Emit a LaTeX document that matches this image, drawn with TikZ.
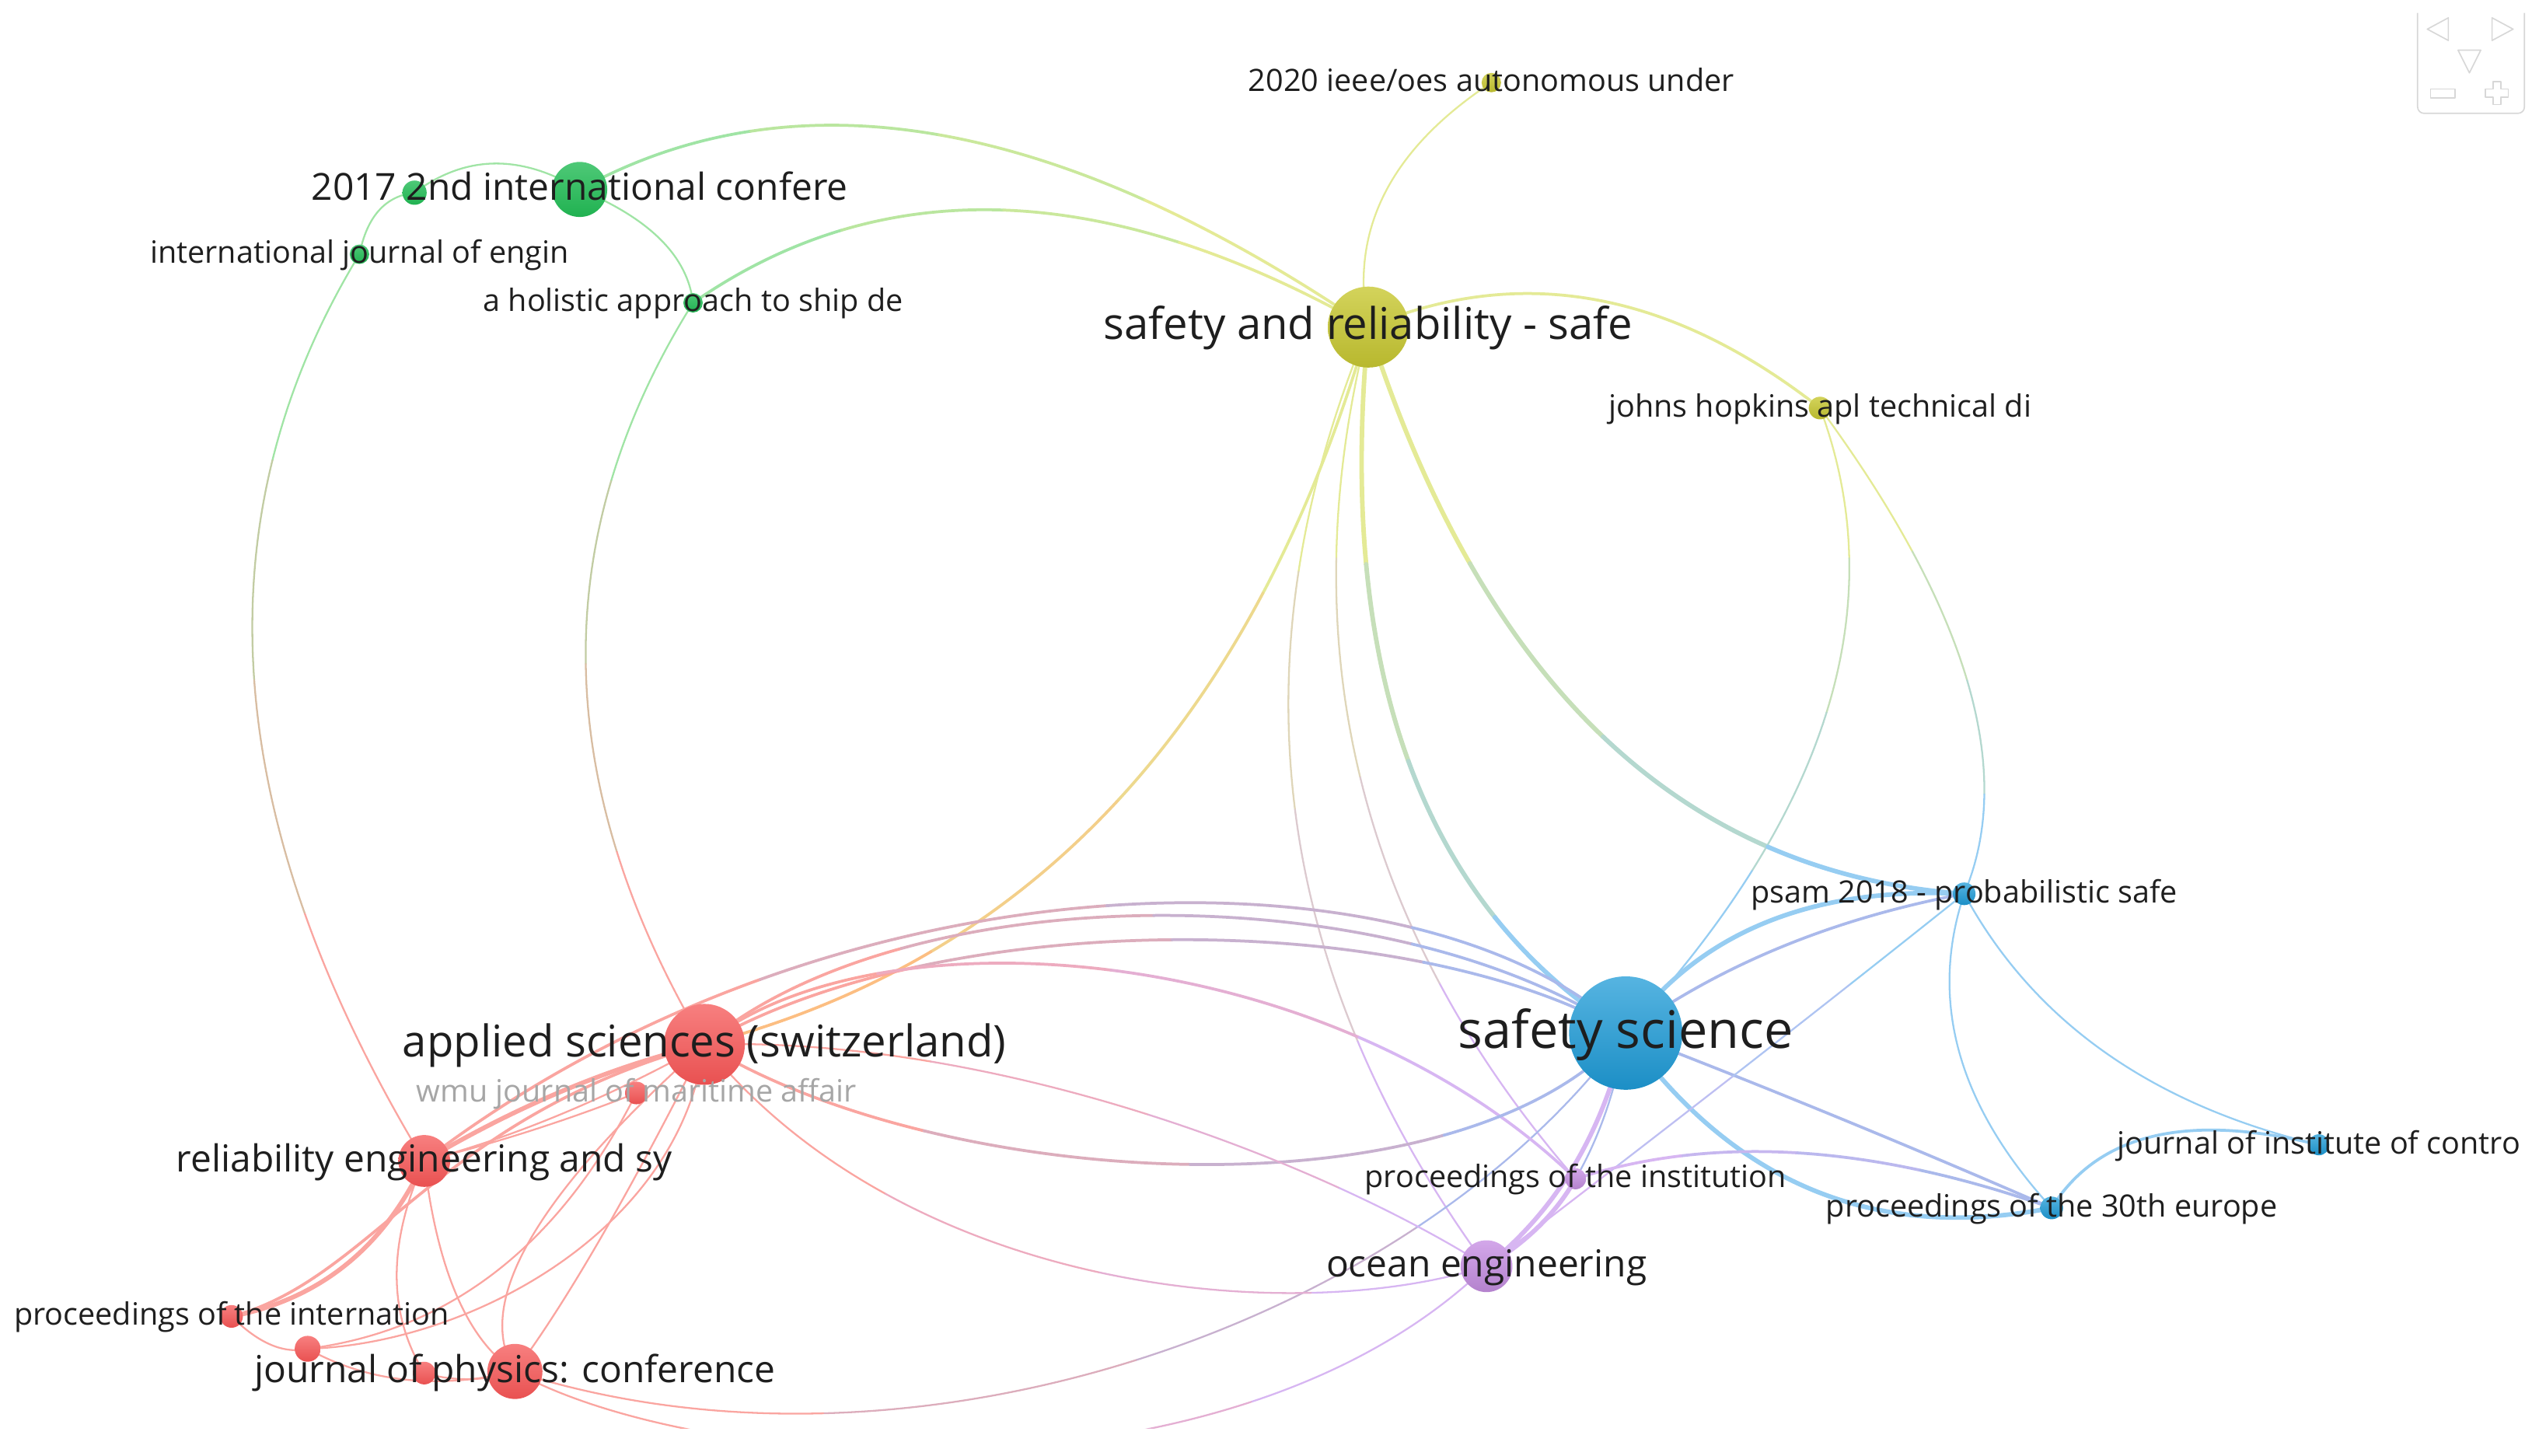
\documentclass[tikz,border=0pt]{standalone}
\usepackage{fontspec}
\setmainfont{Open Sans}
\usetikzlibrary{calc}
\pgfdeclarelayer{bg}
\pgfsetlayers{bg,main}
\definecolor{gN}{RGB}{34,187,85}
\definecolor{yN}{RGB}{200,200,50}
\definecolor{rN}{RGB}{245,85,85}
\definecolor{bN}{RGB}{30,155,215}
\definecolor{pN}{RGB}{200,145,228}
\definecolor{gE}{RGB}{160,228,165}
\definecolor{yE}{RGB}{228,234,150}
\definecolor{rE}{RGB}{250,165,160}
\definecolor{bE}{RGB}{150,205,242}
\definecolor{pE}{RGB}{215,182,242}
\definecolor{oE}{RGB}{252,190,130}
\definecolor{bpE}{RGB}{170,185,235}
\definecolor{labc}{RGB}{30,30,30}
\definecolor{panelc}{RGB}{215,215,215}
\newcommand\fsA{\fontsize{19}{19}\selectfont}
\newcommand\fsB{\fontsize{23}{23}\selectfont}
\newcommand\fsC{\fontsize{27}{27}\selectfont}
\newcommand\fsD{\fontsize{32}{32}\selectfont}
% de Casteljau split of a cubic (#2..#5) into halves, prefix #1
\newcommand\splitc[5]{%
 \coordinate (#1m01) at ($(#2)!0.5!(#3)$);
 \coordinate (#1m12) at ($(#3)!0.5!(#4)$);
 \coordinate (#1m23) at ($(#4)!0.5!(#5)$);
 \coordinate (#1m012) at ($(#1m01)!0.5!(#1m12)$);
 \coordinate (#1m123) at ($(#1m12)!0.5!(#1m23)$);
 \coordinate (#1m) at ($(#1m012)!0.5!(#1m123)$);}
% cubic edge with a four-step colour gradient: width, colour1, colour2, a, c1, c2, b
\newcommand\cg[7]{%
 \coordinate (P0) at (#4.center);
 \coordinate (P1) at (#5);
 \coordinate (P2) at (#6);
 \coordinate (P3) at (#7.center);
 \splitc{H}{P0}{P1}{P2}{P3}
 \splitc{A}{P0}{Hm01}{Hm012}{Hm}
 \splitc{B}{Hm}{Hm123}{Hm23}{P3}
 \draw[#1,#2] (P0) .. controls (Am01) and (Am012) .. (Am);
 \draw[#1,#2!62!#3] (Am) .. controls (Am123) and (Am23) .. (Hm);
 \draw[#1,#2!38!#3] (Hm) .. controls (Bm01) and (Bm012) .. (Bm);
 \draw[#1,#3] (Bm) .. controls (Bm123) and (Bm23) .. (P3);}
\newcommand\qg[6]{\cg{#1}{#2}{#3}{#4}{$(#4.center)!0.6667!(#5)$}{$(#6.center)!0.6667!(#5)$}{#6}}
\newcommand\qe[4]{\draw[#1] (#2.center) .. controls ($(#2.center)!0.6667!(#3)$) and ($(#4.center)!0.6667!(#3)$) .. (#4.center);}
\begin{document}
\begin{tikzpicture}[x=1pt,y=-1pt,
  e/.style={line width=1.1pt, line cap=round},
  em/.style={line width=1.8pt, line cap=round},
  et/.style={line width=2.8pt, line cap=round},
  nd/.style={circle, inner sep=0pt, draw=none, minimum size=#1},
  gn/.style={top color=gN!80!white, bottom color=gN!95!black},
  yn/.style={top color=yN!80!white, bottom color=yN!92!black},
  rn/.style={top color=rN!75!white, bottom color=rN!95!black},
  bn/.style={top color=bN!75!white, bottom color=bN!92!black},
  pn/.style={top color=pN!80!white, bottom color=pN!90!black},
  lab/.style={anchor=base, inner sep=0pt, text=labc},
  panel/.style={draw=panelc, line width=0.8pt, line join=round}]
\useasboundingbox (0,0) rectangle (1568,899);
% ---------- nodes ----------
\node[nd=12, yn] (ieee) at (921,51) {};
\node[nd=34, gn] (g17) at (358,117) {};
\node[nd=15, gn] (gs) at (256,119) {};
\node[nd=12, gn] (ije) at (222,157) {};
\node[nd=12, gn] (hol) at (428,187) {};
\node[nd=50, yn] (sr) at (845,202) {};
\node[nd=14, yn] (jh) at (1124,252) {};
\node[nd=14, bn] (psam) at (1213,552) {};
\node[nd=70, bn] (ss) at (1004,638) {};
\node[nd=50, rn] (app) at (435,645) {};
\node[nd=14, rn] (wmu) at (393,675) {};
\node[nd=32, rn] (rel) at (262,717) {};
\node[nd=13, bn] (jic) at (1432,707) {};
\node[nd=13, pn] (pinst) at (973,728) {};
\node[nd=14, bn] (p30) at (1267,746) {};
\node[nd=32, pn] (ocean) at (918,782) {};
\node[nd=14, rn] (pint) at (143,813) {};
\node[nd=16, rn] (r17) at (190,833) {};
\node[nd=34, rn] (jp) at (318,847) {};
\node[nd=14, rn] (r18) at (262,848) {};
% ---------- edges ----------
\begin{pgfonlayer}{bg}
\begin{scope}
\clip (0,0) rectangle (1568,882);
% green
\qe{e,gE}{g17}{303,84}{gs}
\qe{e,gE}{gs}{229,122}{ije}
\qe{e,gE}{g17}{423,144}{hol}
\qg{em}{gE}{yE}{g17}{558,7}{sr}
\qg{em}{gE}{yE}{hol}{603,65}{sr}
\qg{e}{gE}{rE}{ije}{72,403}{rel}
\qg{e}{gE}{rE}{hol}{292,404}{app}
% yellow
\qe{e,yE}{ieee}{827,113}{sr}
\qe{em,yE}{sr}{985,143}{jh}
\qg{e}{yE}{bE}{jh}{1192,435}{ss}
\qg{e}{yE}{bE}{jh}{1261,438}{psam}
\qg{et}{yE}{bE}{sr}{951,533}{psam}
\qg{et}{yE}{bE}{sr}{815,520}{ss}
\qg{em}{yE}{oE}{sr}{740,566}{app}
\qg{e}{yE}{pE}{sr}{718,508}{ocean}
\qg{e}{yE}{pE}{sr}{771,495}{pinst}
% blue / purple
\qe{et,bE}{ss}{1071,545}{psam}
\qe{em,bpE}{ss}{1091,575}{psam}
\qe{et,bE}{ss}{1104,778}{p30}
\qe{em,bpE}{ss}{1134,688}{p30}
\qe{e,bE}{psam}{1180,651}{p30}
\qe{e,bE}{psam}{1277,670}{jic}
\qe{em,bE}{p30}{1310,677}{jic}
\qg{e}{bE}{pE}{psam}{1074,663}{ocean}
\qg{em}{pE}{bpE}{pinst}{1100,687}{p30}
\qe{et,pE}{ss}{983,730}{ocean}
\qe{e,bpE}{ss}{995,690}{pinst}
\qe{et,pE}{pinst}{955,760}{ocean}
\cg{e}{bpE}{rE}{ss}{870,820}{560,925}{jp}
% red to other clusters
\cg{em}{rE}{bpE}{rel}{520,520}{880,520}{ss}
\cg{em}{rE}{bpE}{app}{560,540}{860,540}{ss}
\cg{em}{rE}{bpE}{app}{580,560}{870,560}{ss}
\cg{em}{rE}{pE}{app}{540,560}{820,580}{pinst}
\cg{em}{rE}{bpE}{app}{580,735}{900,755}{ss}
\cg{e}{rE}{pE}{app}{560,800}{800,820}{ocean}
\cg{e}{rE}{pE}{app}{620,640}{820,720}{ocean}
\cg{e}{rE}{pE}{jp}{430,910}{760,935}{ocean}
% red internal
\qe{et,rE}{rel}{350,665}{app}
\qe{e,rE}{rel}{345,695}{app}
\qe{e,rE}{rel}{330,700}{wmu}
\qe{et,rE}{pint}{225,797}{rel}
\draw[em,rE] (pint.center) .. controls (230,790) and (270,690) .. (app.center);
\qe{e,rE}{pint}{168,838}{r17}
\draw[e,rE] (r17.center) .. controls (290,830) and (420,760) .. (app.center);
\qe{e,rE}{rel}{274,818}{jp}
\qe{e,rE}{rel}{228,793}{r18}
\qe{e,rE}{app}{279,784}{jp}
\qe{e,rE}{app}{365,784}{jp}
\qe{e,rE}{wmu}{322,816}{r17}
\qe{e,rE}{r17}{246,864}{jp}
\qe{e,rE}{r18}{290,856}{jp}
\end{scope}
\end{pgfonlayer}
% ---------- labels ----------
\node[lab, font=\fsA] (ieee-l) at ($(ieee)+(0,5.5)$) {2020 ieee/oes autonomous under};
\node[lab, font=\fsB] (g17-l) at ($(g17)+(0,6.7)$) {2017 2nd international confere};
\node[lab, font=\fsA] (ije-l) at ($(ije)+(0,5.5)$) {international journal of engin};
\node[lab, font=\fsA] (hol-l) at ($(hol)+(0,5.5)$) {a holistic approach to ship de};
\node[lab, font=\fsC] (sr-l) at ($(sr)+(0,7.8)$) {safety and reliability - safe};
\node[lab, font=\fsA] (jh-l) at ($(jh)+(0,5.5)$) {johns hopkins apl technical di};
\node[lab, font=\fsA] (psam-l) at ($(psam)+(0,5.5)$) {psam 2018 - probabilistic safe};
\node[lab, font=\fsD] (ss-l) at ($(ss)+(0,9.3)$) {safety science};
\node[lab, font=\fsC] (app-l) at ($(app)+(0,7.8)$) {applied sciences (switzerland)};
\node[lab, font=\fsA, text=black!35] (wmu-l) at ($(wmu)+(0,5.5)$) {wmu journal of maritime affair};
\node[lab, font=\fsB] (rel-l) at ($(rel)+(0,6.7)$) {reliability engineering and sy};
\node[lab, font=\fsA] (jic-l) at ($(jic)+(0,5.5)$) {journal of institute of contro};
\node[lab, font=\fsA] (pinst-l) at ($(pinst)+(0,5.5)$) {proceedings of the institution};
\node[lab, font=\fsA] (p30-l) at ($(p30)+(0,5.5)$) {proceedings of the 30th europe};
\node[lab, font=\fsB] (ocean-l) at ($(ocean)+(0,6.7)$) {ocean engineering};
\node[lab, font=\fsA] (pint-l) at ($(pint)+(0,5.5)$) {proceedings of the internation};
\node[lab, font=\fsB] (jp-l) at ($(jp)+(0,6.7)$) {journal of physics: conference};
% ---------- control panel ----------
\draw[panel, rounded corners=4pt] (1493,8) -- (1493,70) -- (1559,70) -- (1559,8);
\draw[panel] (1512,11) -- (1499,18) -- (1512,25) -- cycle;
\draw[panel] (1539,11) -- (1552,18) -- (1539,25) -- cycle;
\draw[panel] (1518,31) -- (1532,31) -- (1525,45) -- cycle;
\draw[panel] (1501,55) rectangle (1516,60.5);
\draw[panel] (1539.5,50.5) -- (1544.5,50.5) -- (1544.5,55) -- (1549,55) -- (1549,60) -- (1544.5,60) -- (1544.5,64.5) -- (1539.5,64.5) -- (1539.5,60) -- (1535,60) -- (1535,55) -- (1539.5,55) -- cycle;
\end{tikzpicture}
\end{document}
